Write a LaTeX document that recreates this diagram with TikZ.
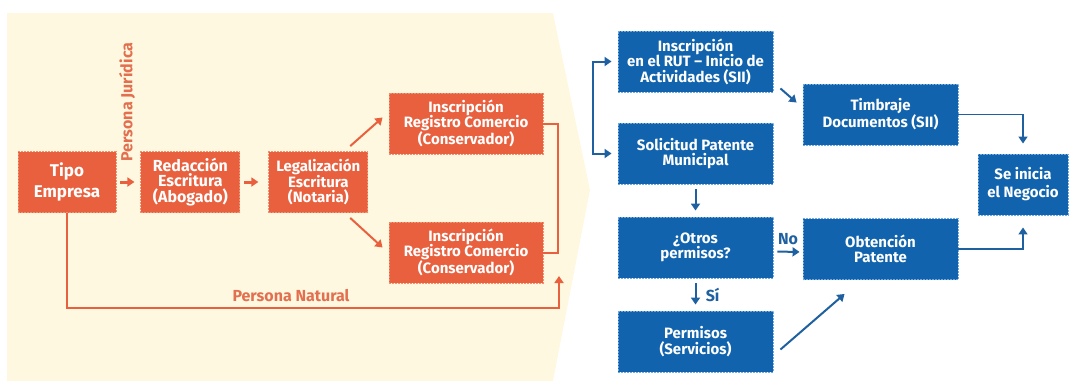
\documentclass[tikz,border=0pt]{standalone}
\usepackage{fontspec}
\setmainfont{Fira Sans}
\usetikzlibrary{arrows.meta, positioning, calc}

\definecolor{orng}{RGB}{233,96,62}
\definecolor{orngline}{RGB}{240,145,115}
\definecolor{orngtxt}{RGB}{226,112,80}
\definecolor{blu}{RGB}{16,99,172}
\definecolor{bluline}{RGB}{110,170,225}
\definecolor{bluarr}{RGB}{30,96,160}
\definecolor{cream}{RGB}{255,248,224}

\begin{document}
\begin{tikzpicture}[
  x=1pt, y=-1pt,
  box/.style={draw, dash pattern=on 2pt off 1pt, line width=0.9pt, minimum height=61pt,
              text=white, font=\bfseries\fontsize{15}{15.5}\selectfont, align=center, inner sep=0pt},
  obox/.style={box, fill=orng, draw=orngline},
  bbox/.style={box, fill=blu, draw=bluline, minimum width=155pt},
  oarr/.style={-{Triangle[length=7pt, width=9pt]}, orng, line width=2pt},
  barr/.style={-{Triangle[length=7pt, width=9pt]}, bluarr, line width=2pt},
  lbl/.style={font=\bfseries\fontsize{16}{18}\selectfont}
]
\useasboundingbox (0,0) rectangle (1070,381);

% fondo
\fill[cream] (7,13) -- (553,13) -- (590,190) -- (553,381) -- (7,381) -- cycle;

% etapa legal
\node[obox, minimum width=98pt, font=\bfseries\fontsize{17}{21}\selectfont] (tipo) at (67,182) {Tipo\\Empresa};
\node[obox, minimum width=99pt, font=\bfseries\fontsize{16}{15.5}\selectfont, right=24pt of tipo] (red) {Redacción\\Escritura\\(Abogado)};
\node[obox, minimum width=99pt, right=28pt of red] (leg) {Legalización\\Escritura\\(Notaria)};
\node[obox, minimum width=154pt] (ins1) at (466,123.5) {Inscripción\\Registro Comercio\\(Conservador)};
\node[obox, minimum width=154pt] (ins2) at (466,252.5) {Inscripción\\Registro Comercio\\(Conservador)};

\node[lbl, orngtxt, rotate=90] (jur) at (127,102) {Persona Jurídica};
\node[lbl, orngtxt] (nat) at (291,296) {Persona Natural};

\coordinate (join) at (558,190);
\coordinate (natc) at (559,308);
\coordinate (natp) at (559,276);

\draw[oarr, line width=3pt, shorten <=4pt, shorten >=6pt] (tipo) -- (red);
\draw[oarr, line width=3pt, shorten <=4pt, shorten >=10pt] (red) -- (leg);
\draw[oarr] ($(leg.north east)+(-18,-5)$) -- ($(ins1.west)+(-6,-6)$);
\draw[oarr] ($(leg.south east)+(-18,5)$) -- ($(ins2.west)+(-6,-5)$);
\draw[orng, line width=2pt] (ins1.east) -| (join) |- (ins2.east);
\draw[oarr] (tipo.south) |- (natc) -- (natp);

% etapa tributaria y municipal
\node[bbox] (rut) at (695.5,61.5) {Inscripción\\en el RUT – Inicio de\\Actividades (SII)};
\node[bbox] (sol) at (695.5,153.5) {Solicitud Patente\\Municipal};
\node[bbox] (otros) at (695.5,247.5) {¿Otros\\permisos?};
\node[bbox] (perm) at (695.5,341.5) {Permisos\\(Servicios)};
\node[bbox] (timb) at (880.5,114.5) {Timbraje\\Documentos (SII)};
\node[bbox] (obt) at (880.5,249) {Obtención\\Patente};
\node[bbox, minimum width=90pt, font=\bfseries\fontsize{15}{18}\selectfont] (neg) at (1023,184.5) {Se inicia\\el Negocio};

\coordinate (brk) at (593,105);
\draw[barr, shorten >=6pt] (brk) |- (rut.west);
\draw[barr, shorten >=6pt] (brk) |- (sol.west);
\draw[barr] ($(rut.south east)+(7,-4)$) -- ($(timb.north west)+(-6,19)$);
\draw[barr, shorten <=5pt, shorten >=6pt] (sol) -- (otros);
\draw[barr, shorten <=5pt, shorten >=6pt] (otros) -- node[lbl, bluarr, right=6pt] (si) {Sí} (perm);
\draw[barr, shorten <=4pt, shorten >=3pt] ($(otros.east)+(0,4)$) -- node[lbl, bluarr, above=3pt] (no) {No} ($(obt.west)+(0,3)$);
\draw[barr] ($(perm.east)+(7,8)$) -- ($(obt.south west)+(42,14)$);
\draw[barr, line width=1.6pt, shorten >=10pt] (timb.east) -| (neg.north);
\draw[barr, line width=1.6pt, shorten >=12pt] (obt.east) -| (neg.south);
\end{tikzpicture}
\end{document}
